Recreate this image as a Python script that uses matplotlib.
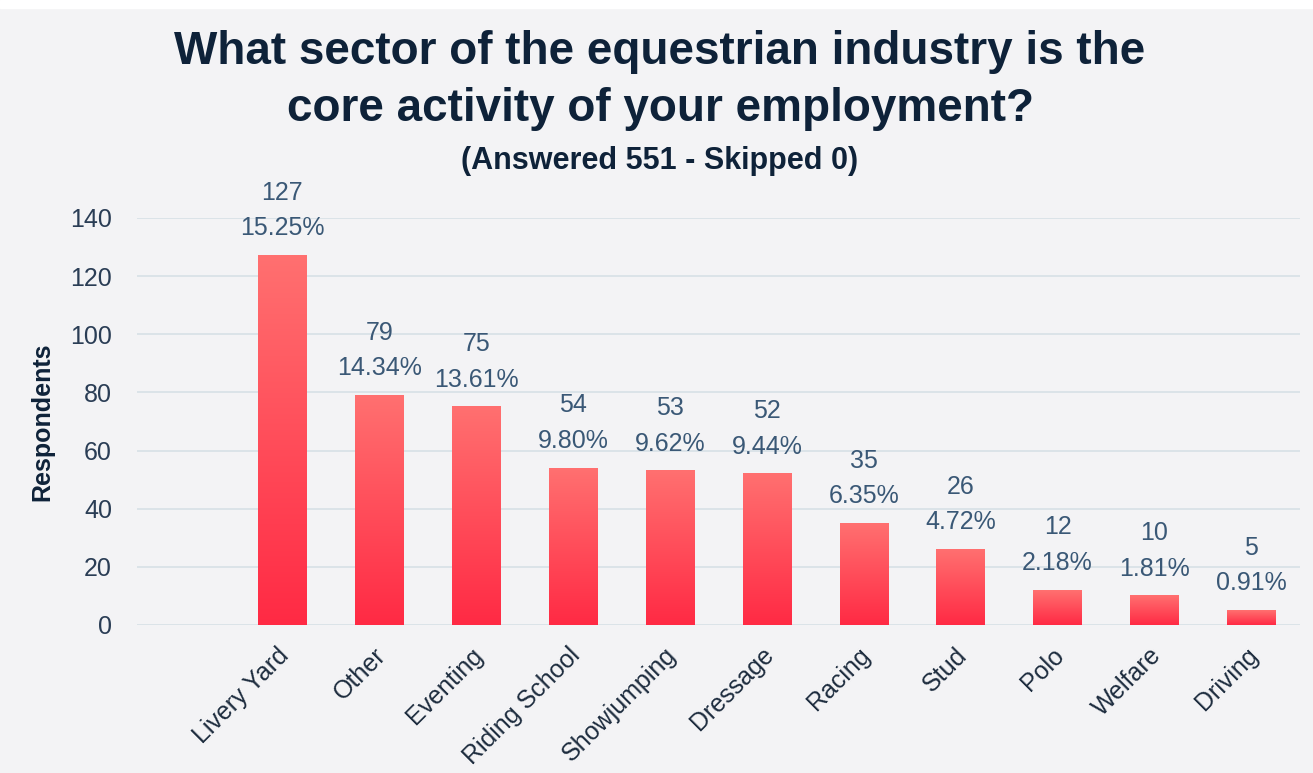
import numpy as np
import matplotlib.pyplot as plt
from matplotlib.colors import LinearSegmentedColormap
from matplotlib.patches import Rectangle
from matplotlib.transforms import ScaledTranslation

sectors = ["Livery Yard", "Other", "Eventing", "Riding School", "Showjumping",
           "Dressage", "Racing", "Stud", "Polo", "Welfare", "Driving"]
respondents = [127, 79, 75, 54, 53, 52, 35, 26, 12, 10, 5]
percent_labels = ["15.25%", "14.34%", "13.61%", "9.80%", "9.62%", "9.44%",
                  "6.35%", "4.72%", "2.18%", "1.81%", "0.91%"]
y_ticks = [0, 20, 40, 60, 80, 100, 120, 140]

BG = "#f3f3f5"
NAVY = "#0e2239"
TICK = "#2a3d55"
VALUE = "#3a5876"
GRID = "#dbe3e8"

plt.rcParams['font.family'] = ['Liberation Sans', 'DejaVu Sans']

fig = plt.figure(figsize=(13.13, 7.73), dpi=100)
fig.patch.set_facecolor(BG)
fig.add_artist(Rectangle((0, 1 - 8 / 773), 1, 8 / 773, transform=fig.transFigure,
                         color="white", zorder=0))

ax = fig.add_axes([0.1043, 0.1915, 0.8857, 0.5265])
ax.set_facecolor(BG)

x = np.arange(len(sectors))
bars = ax.bar(x, respondents, width=0.5, color="none", zorder=3)

# vertical red gradient inside each bar
red = LinearSegmentedColormap.from_list("red", ["#ff2a44", "#ff7070"])
grad = np.linspace(0, 1, 256).reshape(-1, 1)
for b in bars:
    x0, w, h = b.get_x(), b.get_width(), b.get_height()
    ax.imshow(grad, cmap=red, origin="lower", aspect="auto",
              extent=(x0, x0 + w, 0, h), zorder=3)

for xi, v, pct in zip(x, respondents, percent_labels):
    ax.annotate(f"{v}\n{pct}", xy=(xi, v), xytext=(0, 11), textcoords="offset points",
                ha="center", va="bottom", fontsize=18, color=VALUE, linespacing=1.6,
                annotation_clip=False)

ax.set_xlim(-1.5, 10.5)
ax.set_ylim(0, 140)
ax.set_yticks(y_ticks)
ax.grid(axis="y", color=GRID, linewidth=1.4, zorder=0)
ax.set_axisbelow(True)
for s in ax.spines.values():
    s.set_visible(False)

ax.tick_params(axis="y", length=0, pad=18, labelsize=18, labelcolor=TICK)
ax.tick_params(axis="x", length=0, pad=13, labelsize=18, labelcolor="#1d2c3e")
ax.set_xticks(x)
ax.set_xticklabels(sectors, rotation=45, ha="right", rotation_mode="anchor")
shift = ScaledTranslation(-4 / 72, 0, fig.dpi_scale_trans)
for lbl in ax.get_xticklabels():
    lbl.set_transform(lbl.get_transform() + shift)

ax.set_ylabel("Respondents", fontsize=18, fontweight="bold", color=NAVY)
ax.yaxis.set_label_coords(-0.071, 0.5)

fig.text(0.5027, 1 - 52 / 773, "What sector of the equestrian industry is the",
         ha="center", va="center", fontsize=33, fontweight="bold", color=NAVY)
fig.text(0.5027, 1 - 109 / 773, "core activity of your employment?",
         ha="center", va="center", fontsize=33, fontweight="bold", color=NAVY)
fig.text(0.5027, 1 - 161 / 773, "(Answered 551 - Skipped 0)",
         ha="center", va="center", fontsize=22, fontweight="bold", color=NAVY)

fig.savefig("out.png", dpi=100, facecolor=BG)
